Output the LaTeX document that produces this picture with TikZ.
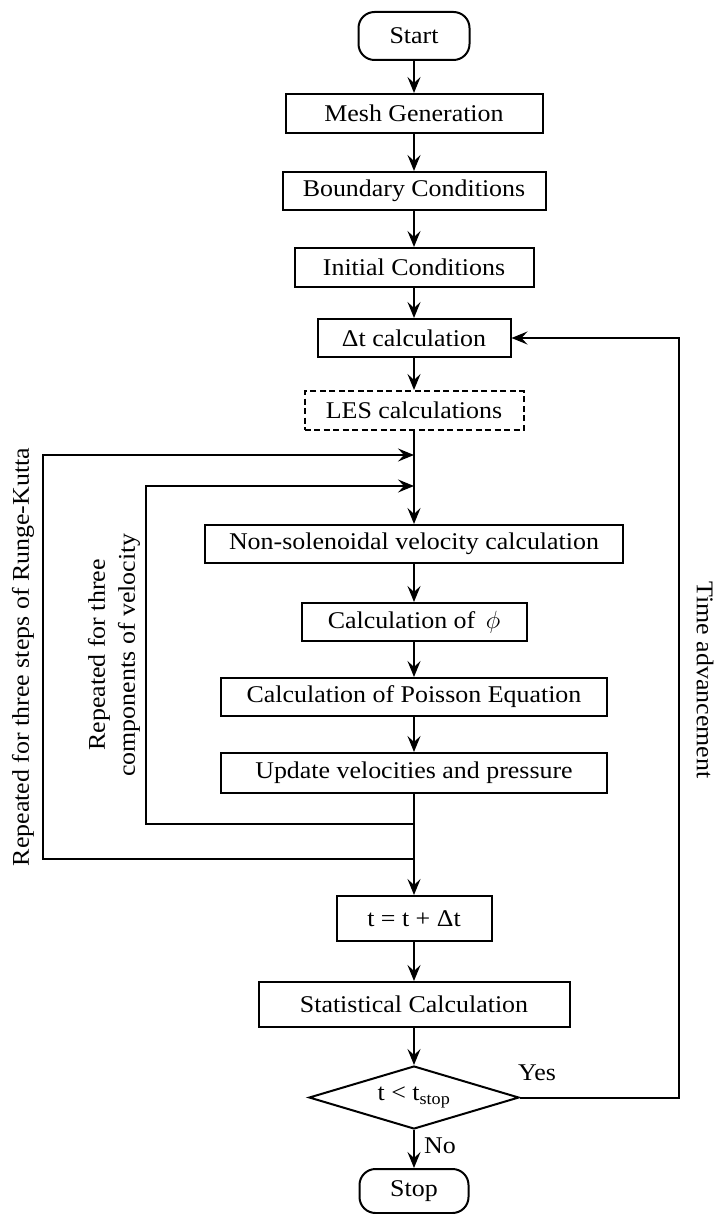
\documentclass[tikz,border=0pt]{standalone}
\usepackage{fontspec}
\setmainfont{Liberation Serif}[FakeStretch=1.08]
\usetikzlibrary{arrows.meta,shapes.geometric}
\begin{document}
\begin{tikzpicture}[x=1pt,y=-1pt,
  font=\fontsize{24}{30}\selectfont,
  line width=2pt,
  box/.style={draw, rectangle, inner sep=0pt, line width=2pt},
  term/.style={box, rounded corners=16pt},
  arr/.style={-{Stealth[length=16pt,width=13pt,inset=6pt]}},
  lbl/.style={inner sep=0pt}
]
\useasboundingbox (0,0) rectangle (716,1214);

\node[term, minimum width=111pt, minimum height=48pt] (start) at (414,36) {Start};
\node[box, minimum width=257pt, minimum height=39pt] (mesh) at (414,113.5) {Mesh Generation};
\node[box, minimum width=263pt, minimum height=38pt] (bc) at (414,191) {Boundary Conditions};
\node[box, minimum width=239pt, minimum height=39pt] (ic) at (414,267.5) {Initial Conditions};
\node[box, minimum width=193pt, minimum height=38pt] (dt) at (414,338) {Δt calculation};
\node[box, dash pattern=on 6pt off 3.5pt, minimum width=219pt, minimum height=39pt] (les) at (414,410.5) {LES calculations};
\node[box, minimum width=418pt, minimum height=38pt] (ns) at (414,544) {Non-solenoidal velocity calculation};
\node[box, minimum width=225pt, minimum height=38pt] (phi) at (414,622) {Calculation of \,$\phi$};
\node[box, minimum width=386pt, minimum height=38pt] (pois) at (414,697) {Calculation of Poisson Equation};
\node[box, minimum width=386pt, minimum height=40pt] (upd) at (414,773) {Update velocities and pressure};
\node[box, minimum width=155pt, minimum height=45pt] (tt) at (414,918.5) {t = t + Δt};
\node[box, minimum width=311pt, minimum height=45pt] (stat) at (414,1004.5) {Statistical Calculation};
\node[draw, diamond, aspect=3.33, inner sep=0pt, minimum width=210pt, minimum height=63pt] (dec) at (414,1097.5) {t < t\textsubscript{stop}};
\node[term, minimum width=109pt, minimum height=44pt] (stop) at (414,1191) {Stop};

\coordinate (j1) at (414,455);
\coordinate (j2) at (414,486);
\coordinate (k2) at (414,824);
\coordinate (k1) at (414,859);
\coordinate (o1) at (43,859);
\coordinate (o2) at (43,455);
\coordinate (i1) at (146,824);
\coordinate (i2) at (146,486);
\coordinate (tr) at (679,1097.5);

\draw[arr] (start) -- (mesh);
\draw[arr] (mesh) -- (bc);
\draw[arr] (bc) -- (ic);
\draw[arr] (ic) -- (dt);
\draw[arr] (dt) -- (les);
\draw[arr] (les) -- (ns);
\draw[arr] (ns) -- (phi);
\draw[arr] (phi) -- (pois);
\draw[arr] (pois) -- (upd);
\draw[arr] (upd) -- (tt);
\draw[arr] (tt) -- (stat);
\draw[arr] (stat) -- (dec);
\draw[arr] (dec) -- (stop);

\draw[arr] (k1) -- (o1) -- (o2) -- (j1);
\draw[arr] (k2) -- (i1) -- (i2) -- (j2);
\draw[arr] (dec.east) -- (tr) |- (dt.east);

\node[lbl] (yes) at (537,1073) {Yes};
\node[lbl] (no) at (440,1146) {No};

\node[lbl, rotate=90] (rk) at (23,657) {Repeated for three steps of Runge-Kutta};
\node[lbl, rotate=90, align=center] (comp) at (114,655) {Repeated for three\\components of velocity};
\node[lbl, rotate=-90] (ta) at (705,680) {Time advancement};
\end{tikzpicture}
\end{document}
